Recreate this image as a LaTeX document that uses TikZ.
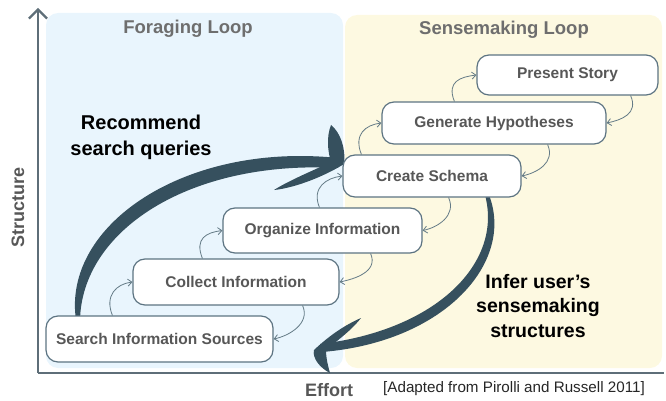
\documentclass[tikz,border=0pt]{standalone}
\usepackage{fontspec}
\setmainfont{Liberation Sans}
\usetikzlibrary{arrows.meta}

\definecolor{panelblue}{HTML}{E9F5FD}
\definecolor{panelyellow}{HTML}{FDF9E1}
\definecolor{axisgray}{HTML}{5E6E78}
\definecolor{boxline}{HTML}{5D7482}
\definecolor{hopline}{HTML}{647B86}
\definecolor{arrowdark}{HTML}{36505E}
\definecolor{labelgray}{HTML}{575757}
\definecolor{titlegray}{HTML}{6E6E6E}

\begin{document}
\begin{tikzpicture}[x=1pt,y=-1pt,
  stage/.style={draw=boxline,line width=1.2pt,fill=white,rounded corners=12pt,inner sep=0pt,
    text=labelgray,font=\bfseries\fontsize{15.5}{18}\selectfont},
  looptitle/.style={text=titlegray,font=\bfseries\fontsize{18.5}{22}\selectfont},
  axislabel/.style={text=labelgray,font=\bfseries\fontsize{18}{22}\selectfont},
  callout/.style={align=center,font=\bfseries\fontsize{20}{26}\selectfont},
  uphop/.style={draw=hopline,line width=0.8pt,-{Straight Barb[length=4pt,width=7pt]},
    to path={.. controls +(-8,-20) and +(-16,2) .. (\tikztotarget) \tikztonodes}},
  downhop/.style={draw=hopline,line width=0.8pt,-{Straight Barb[length=4pt,width=7pt]},
    to path={.. controls +(8,18) and +(15,-3) .. (\tikztotarget) \tikztonodes}}]
\useasboundingbox (0,0) rectangle (666,401);

% the two loops
\fill[panelblue,rounded corners=12pt] (46,13) rectangle (343,368);
\fill[panelyellow,rounded corners=12pt] (345,15) rectangle (662,368);
\node[looptitle] (forage) at (188,29) {Foraging Loop};
\node[looptitle] (sense) at (504,30) {Sensemaking Loop};

% axes
\coordinate (origin) at (38,373);
\coordinate (ytop) at (38,8);
\coordinate (xend) at (664,373);
\draw[axisgray,line width=2.4pt,-{Straight Barb[length=9pt,width=18pt,line width=2.2pt]}] (origin) -- (ytop);
\draw[axisgray,line width=2.4pt] (origin) -- (xend);
\node[axislabel,rotate=90] (struct) at (18,207) {Structure};
\node[axislabel] (effort) at (329,390) {Effort};
\node[text=black!85,font=\fontsize{15.2}{18}\selectfont] (cite) at (514,389) {[Adapted from Pirolli and Russell 2011]};

% big brush arrows
\fill[arrowdark] (76,320) .. controls (62,225) and (185,142) .. (338,158)
  -- (338,168) .. controls (190,160) and (82,230) .. (80,320) -- cycle;
\fill[arrowdark] (344,164) .. controls (346,148) and (340,132) .. (331,125)
  .. controls (326,138) and (328,152) .. (331,162)
  .. controls (310,172) and (290,180) .. (274,190)
  .. controls (295,188) and (325,176) .. (344,164) -- cycle;
\fill[arrowdark] (489,195) .. controls (515,262) and (445,342) .. (322,352)
  -- (320,344) .. controls (438,330) and (503,262) .. (485,195) -- cycle;
\fill[arrowdark] (314,350) .. controls (330,335) and (345,325) .. (361,318)
  .. controls (350,332) and (335,342) .. (326,350)
  .. controls (326,358) and (328,366) .. (330,373)
  .. controls (320,368) and (312,358) .. (314,350) -- cycle;

\node[callout] (recommend) at (141,137) {Recommend\\search queries};
\node[callout,font=\bfseries\fontsize{19.5}{24.5}\selectfont] (infer) at (538,306) {Infer user’s\\sensemaking\\structures};

% stages
\node[stage,minimum width=227pt,minimum height=46pt] (search) at (159.5,339) {Search Information Sources};
\node[stage,minimum width=206pt,minimum height=46pt] (collect) at (236,282) {Collect Information};
\node[stage,minimum width=199pt,minimum height=45pt] (organize) at (322.5,230.5) {Organize Information};
\node[stage,minimum width=178pt,minimum height=42pt] (schema) at (432,176) {Create Schema};
\node[stage,minimum width=224pt,minimum height=42pt] (hypo) at (494,123) {Generate Hypotheses};
\node[stage,minimum width=181pt,minimum height=40pt] (story) at (567.5,75) {Present Story};

% small loops between stages
\draw[uphop] ([xshift=67pt]search.north west) to (collect.west);
\draw[uphop] ([xshift=70pt]collect.north west) to (organize.west);
\draw[uphop] ([xshift=97pt]organize.north west) to (schema.west);
\draw[uphop] ([xshift=19pt]schema.north west) to (hypo.west);
\draw[uphop] ([xshift=73pt]hypo.north west) to (story.west);
\draw[downhop] ([xshift=-28pt]story.south east) to (hypo.east);
\draw[downhop] ([xshift=-59pt]hypo.south east) to (schema.east);
\draw[downhop] ([xshift=-73pt]schema.south east) to (organize.east);
\draw[downhop] ([xshift=-52pt]organize.south east) to (collect.east);
\draw[downhop] ([xshift=-37pt]collect.south east) to (search.east);
\end{tikzpicture}
\end{document}
